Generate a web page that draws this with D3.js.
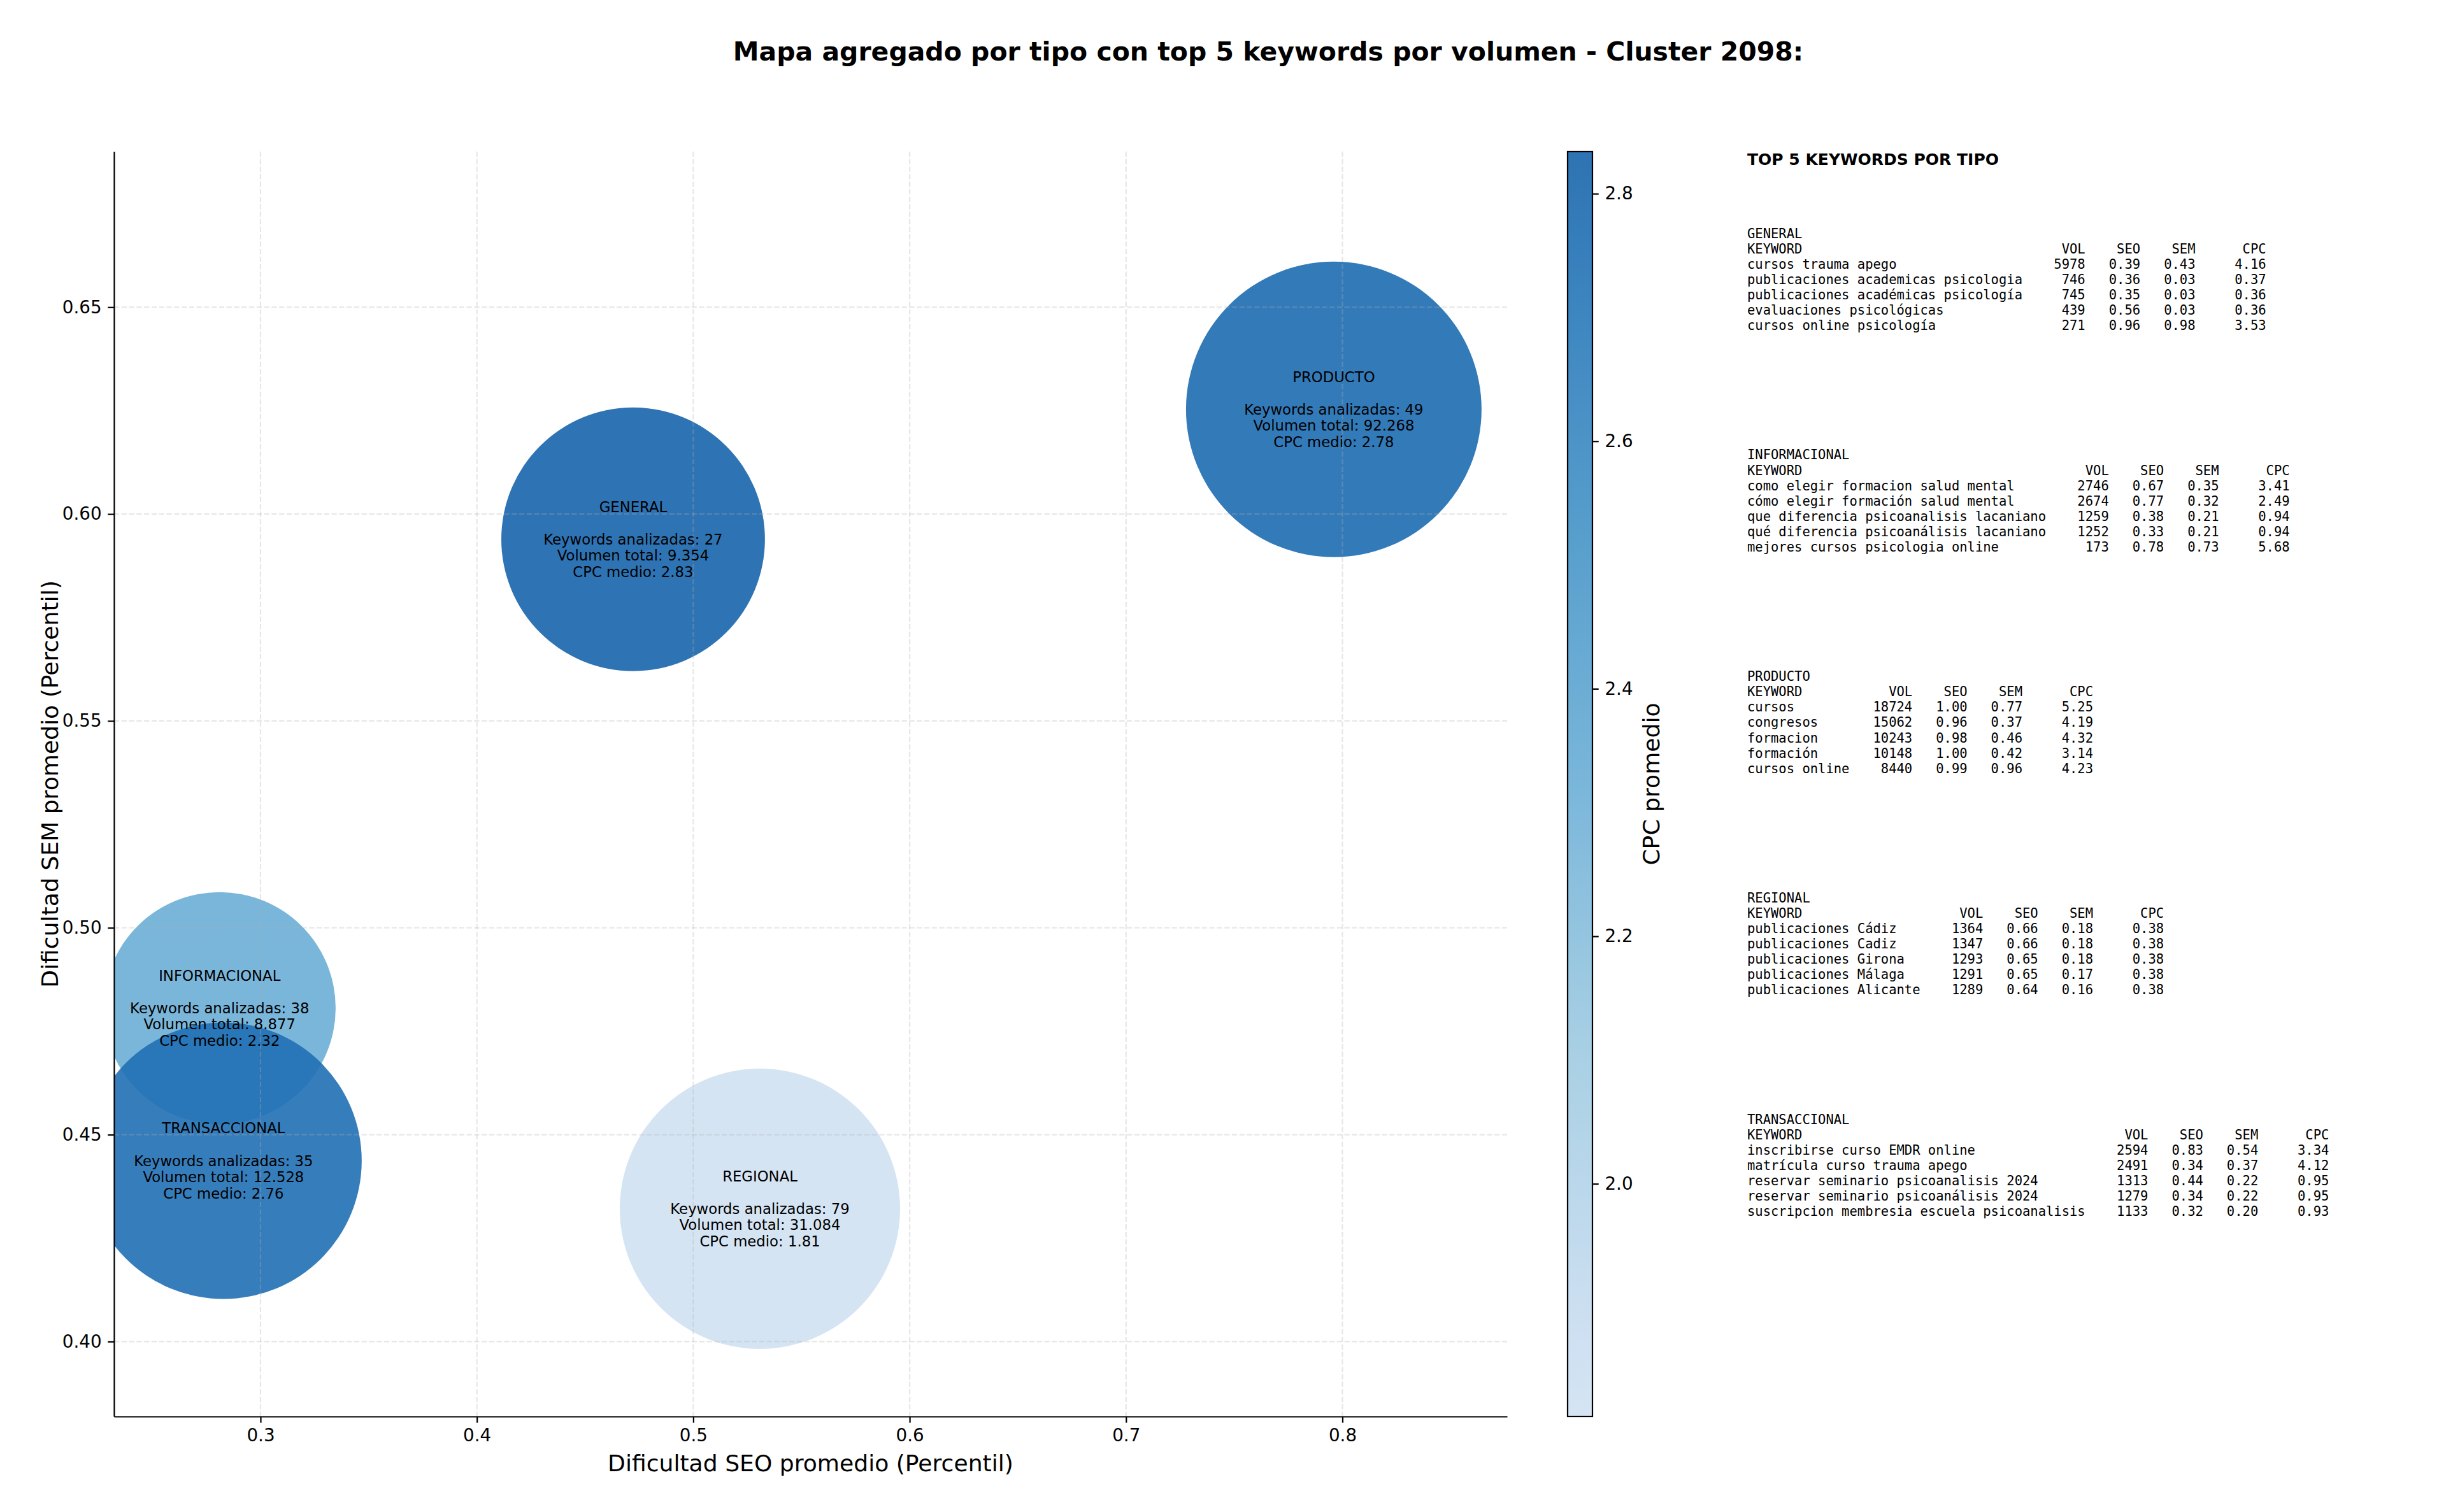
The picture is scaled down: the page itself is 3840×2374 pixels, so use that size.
<!DOCTYPE html>
<html><head><meta charset="utf-8">
<script src="https://cdn.jsdelivr.net/npm/d3@7"></script>
<style>
body{margin:0;background:#fff}
svg{display:block}
text{font-family:"DejaVu Sans",sans-serif;fill:#000}
.mono{font-family:"DejaVu Sans Mono",monospace;white-space:pre}
</style>
</head><body>
<svg id="chart" width="3840" height="2374" xmlns="http://www.w3.org/2000/svg"></svg>
<script>
// ---------------- DATA ----------------
const types = ["GENERAL", "INFORMACIONAL", "PRODUCTO", "REGIONAL", "TRANSACCIONAL"];
const seoAvg = [0.4722, 0.2811, 0.7960, 0.5308, 0.2829];
const semAvg = [0.5939, 0.4806, 0.6253, 0.4321, 0.4437];
const cpcAvg = [2.834, 2.32, 2.78, 1.812, 2.76];
const kwCount = [27, 38, 49, 79, 35];
const volTotal = [9354, 8877, 92268, 31084, 12528];
const bubbleSize = [22200, 17200, 27900, 25100, 24400]; // marker area (pt^2)

const xTicks = [0.3, 0.4, 0.5, 0.6, 0.7, 0.8];
const yTicks = [0.40, 0.45, 0.50, 0.55, 0.60, 0.65];
const cbTicks = [2.0, 2.2, 2.4, 2.6, 2.8];

// top 5 keywords: [keyword, VOL, SEO, SEM, CPC]
const topGeneral = [
  ["cursos trauma apego", 5978, 0.39, 0.43, 4.16],
  ["publicaciones academicas psicologia", 746, 0.36, 0.03, 0.37],
  ["publicaciones académicas psicología", 745, 0.35, 0.03, 0.36],
  ["evaluaciones psicológicas", 439, 0.56, 0.03, 0.36],
  ["cursos online psicología", 271, 0.96, 0.98, 3.53]
];
const topInformacional = [
  ["como elegir formacion salud mental", 2746, 0.67, 0.35, 3.41],
  ["cómo elegir formación salud mental", 2674, 0.77, 0.32, 2.49],
  ["que diferencia psicoanalisis lacaniano", 1259, 0.38, 0.21, 0.94],
  ["qué diferencia psicoanálisis lacaniano", 1252, 0.33, 0.21, 0.94],
  ["mejores cursos psicologia online", 173, 0.78, 0.73, 5.68]
];
const topProducto = [
  ["cursos", 18724, 1.00, 0.77, 5.25],
  ["congresos", 15062, 0.96, 0.37, 4.19],
  ["formacion", 10243, 0.98, 0.46, 4.32],
  ["formación", 10148, 1.00, 0.42, 3.14],
  ["cursos online", 8440, 0.99, 0.96, 4.23]
];
const topRegional = [
  ["publicaciones Cádiz", 1364, 0.66, 0.18, 0.38],
  ["publicaciones Cadiz", 1347, 0.66, 0.18, 0.38],
  ["publicaciones Girona", 1293, 0.65, 0.18, 0.38],
  ["publicaciones Málaga", 1291, 0.65, 0.17, 0.38],
  ["publicaciones Alicante", 1289, 0.64, 0.16, 0.38]
];
const topTransaccional = [
  ["inscribirse curso EMDR online", 2594, 0.83, 0.54, 3.34],
  ["matrícula curso trauma apego", 2491, 0.34, 0.37, 4.12],
  ["reservar seminario psicoanalisis 2024", 1313, 0.44, 0.22, 0.95],
  ["reservar seminario psicoanálisis 2024", 1279, 0.34, 0.22, 0.95],
  ["suscripcion membresia escuela psicoanalisis", 1133, 0.32, 0.20, 0.93]
];
const topTables = [topGeneral, topInformacional, topProducto, topRegional, topTransaccional];

const titleText = "Mapa agregado por tipo con top 5 keywords por volumen - Cluster 2098:";
const xLabel = "Dificultad SEO promedio (Percentil)";
const yLabel = "Dificultad SEM promedio (Percentil)";
const cbLabel = "CPC promedio";
const tableTitle = "TOP 5 KEYWORDS POR TIPO";

// ---------------- LAYOUT ----------------
const svg = d3.select("#chart");
const PT = 200 / 72;
const plot = {left: 179, right: 2366, top: 238, bottom: 2224};

const x = d3.scaleLinear().domain([0.2323, 0.8761]).range([plot.left, plot.right]);
const y = d3.scaleLinear().domain([0.3819, 0.6876]).range([plot.bottom, plot.top]);
const r = d3.scaleSqrt().domain([0, 30000]).range([0, Math.sqrt(30000) / 2 * PT]);

const bluesStops = ['#f7fbff','#deebf7','#c6dbef','#9ecae1','#6baed6','#4292c6','#2171b5','#08519c','#08306b'];
const blues = d3.scaleLinear().domain(d3.range(9).map(i => i / 8)).range(bluesStops).interpolate(d3.interpolateRgb);
const cMin = d3.min(cpcAvg), cMax = d3.max(cpcAvg);
const norm = d3.scaleLinear().domain([cMin, cMax]).range([0.2, 0.8]);
const color = v => blues(norm(v));
const ALPHA = 0.9;

// title
svg.append("text").attr("x", 1991).attr("y", 81)
  .attr("text-anchor", "middle").attr("dominant-baseline", "central")
  .style("font-weight", "bold").style("font-size", (14.75 * PT) + "px")
  .text(titleText);

// clip
svg.append("defs").append("clipPath").attr("id", "plotclip")
  .append("rect").attr("x", plot.left).attr("y", plot.top)
  .attr("width", plot.right - plot.left).attr("height", plot.bottom - plot.top);

const data = types.map((t, i) => ({t, seo: seoAvg[i], sem: semAvg[i], cpc: cpcAvg[i], n: kwCount[i], vol: volTotal[i], s: bubbleSize[i]}));

// bubbles
svg.append("g").attr("clip-path", "url(#plotclip)")
  .selectAll("circle").data(data).join("circle")
  .attr("cx", d => x(d.seo)).attr("cy", d => y(d.sem)).attr("r", d => r(d.s))
  .attr("fill", d => color(d.cpc)).attr("fill-opacity", ALPHA);

// grid (on top of bubbles)
const grid = svg.append("g").attr("stroke", "#b0b0b0").attr("stroke-opacity", 0.3)
  .attr("stroke-width", 0.8 * PT).attr("stroke-dasharray", `${3.7 * 0.8 * PT},${1.6 * 0.8 * PT}`);
grid.selectAll("line.gx").data(xTicks).join("line").attr("class", "gx")
  .attr("x1", d => x(d)).attr("x2", d => x(d)).attr("y1", plot.top).attr("y2", plot.bottom);
grid.selectAll("line.gy").data(yTicks).join("line").attr("class", "gy")
  .attr("y1", d => y(d)).attr("y2", d => y(d)).attr("x1", plot.left).attr("x2", plot.right);

// bubble labels
const fmtVol = v => d3.format(",")(v).replace(/,/g, ".");
const LH = 25.6;
const lg = svg.append("g").style("font-size", (8.2 * PT) + "px").attr("text-anchor", "middle");
data.forEach(d => {
  const lines = [d.t, "", `Keywords analizadas: ${d.n}`, `Volumen total: ${fmtVol(d.vol)}`, `CPC medio: ${d.cpc.toFixed(2)}`];
  lines.forEach((ln, k) => {
    if (!ln) return;
    lg.append("text").attr("x", x(d.seo)).attr("y", y(d.sem) + (k - 2) * LH)
      .attr("dominant-baseline", "central").text(ln);
  });
});

// axes
const tickLen = 3.5 * PT;
const xAxis = svg.append("g").attr("transform", `translate(0,${plot.bottom})`)
  .call(d3.axisBottom(x).tickValues(xTicks).tickFormat(d3.format(".1f")).tickSize(tickLen).tickPadding(3.5 * PT).tickSizeOuter(0));
const yAxis = svg.append("g").attr("transform", `translate(${plot.left},0)`)
  .call(d3.axisLeft(y).tickValues(yTicks).tickFormat(d3.format(".2f")).tickSize(tickLen).tickPadding(3.5 * PT).tickSizeOuter(0));
[xAxis, yAxis].forEach(a => {
  a.selectAll("path,line").attr("stroke", "#000").attr("stroke-width", 0.8 * PT);
  a.selectAll("text").style("font-size", (10 * PT) + "px").style("font-family", "'DejaVu Sans',sans-serif").attr("fill", "#000");
});

const LBL = 13 * PT;
svg.append("text").attr("x", (plot.left + plot.right) / 2).attr("y", 2297)
  .attr("text-anchor", "middle").attr("dominant-baseline", "central")
  .style("font-size", LBL + "px").text(xLabel);
svg.append("text").attr("transform", `translate(78,${(plot.top + plot.bottom) / 2}) rotate(-90)`)
  .attr("text-anchor", "middle").attr("dominant-baseline", "central")
  .style("font-size", LBL + "px").text(yLabel);

// colorbar
const cb = {left: 2461, right: 2500, top: plot.top, bottom: plot.bottom};
const cy = d3.scaleLinear().domain([cMin, cMax]).range([cb.bottom, cb.top]);
const grad = svg.select("defs").append("linearGradient").attr("id", "cbgrad")
  .attr("x1", 0).attr("y1", 1).attr("x2", 0).attr("y2", 0);
d3.range(0, 1.0001, 0.02).forEach(t => {
  grad.append("stop").attr("offset", t).attr("stop-color", color(cMin + t * (cMax - cMin))).attr("stop-opacity", ALPHA);
});
svg.append("rect").attr("x", cb.left).attr("y", cb.top).attr("width", cb.right - cb.left).attr("height", cb.bottom - cb.top)
  .attr("fill", "url(#cbgrad)").attr("stroke", "#000").attr("stroke-width", 0.8 * PT);
const cAxis = svg.append("g").attr("transform", `translate(${cb.right},0)`)
  .call(d3.axisRight(cy).tickValues(cbTicks).tickFormat(d3.format(".1f")).tickSize(tickLen).tickPadding(3.5 * PT).tickSizeOuter(0));
cAxis.select("path.domain").remove();
cAxis.selectAll("line").attr("stroke", "#000").attr("stroke-width", 0.8 * PT);
cAxis.selectAll("text").style("font-size", (10 * PT) + "px").style("font-family", "'DejaVu Sans',sans-serif").attr("fill", "#000");
svg.append("text").attr("transform", `translate(2592,${(cb.top + cb.bottom) / 2}) rotate(-90)`)
  .attr("text-anchor", "middle").attr("dominant-baseline", "central")
  .style("font-size", LBL + "px").text(cbLabel);

// table
const TX = 2743, TLH = 24.1, BLOCK0 = 366.7, BLOCKSTEP = 347.7;
svg.append("text").attr("x", TX).attr("y", 250).attr("dominant-baseline", "central")
  .style("font-weight", "bold").style("font-size", (9 * PT) + "px").text(tableTitle);
const tg = svg.append("g").style("font-size", "20.5px");
topTables.forEach((rows, bi) => {
  const w = d3.max(rows, rw => rw[0].length);
  const lines = [types[bi],
    "KEYWORD".padEnd(w) + "  " + "VOL".padStart(6) + " " + "SEO".padStart(6) + " " + "SEM".padStart(6) + " " + "CPC".padStart(8)];
  rows.forEach(rw => {
    lines.push(rw[0].padEnd(w) + "  " + String(rw[1]).padStart(6) + " " + rw[2].toFixed(2).padStart(6) + " " +
      rw[3].toFixed(2).padStart(6) + " " + rw[4].toFixed(2).padStart(8));
  });
  lines.forEach((ln, k) => {
    tg.append("text").attr("class", "mono").attr("xml:space", "preserve")
      .attr("x", TX).attr("y", BLOCK0 + bi * BLOCKSTEP + k * TLH)
      .attr("dominant-baseline", "central").text(ln);
  });
});
</script>
</body></html>
